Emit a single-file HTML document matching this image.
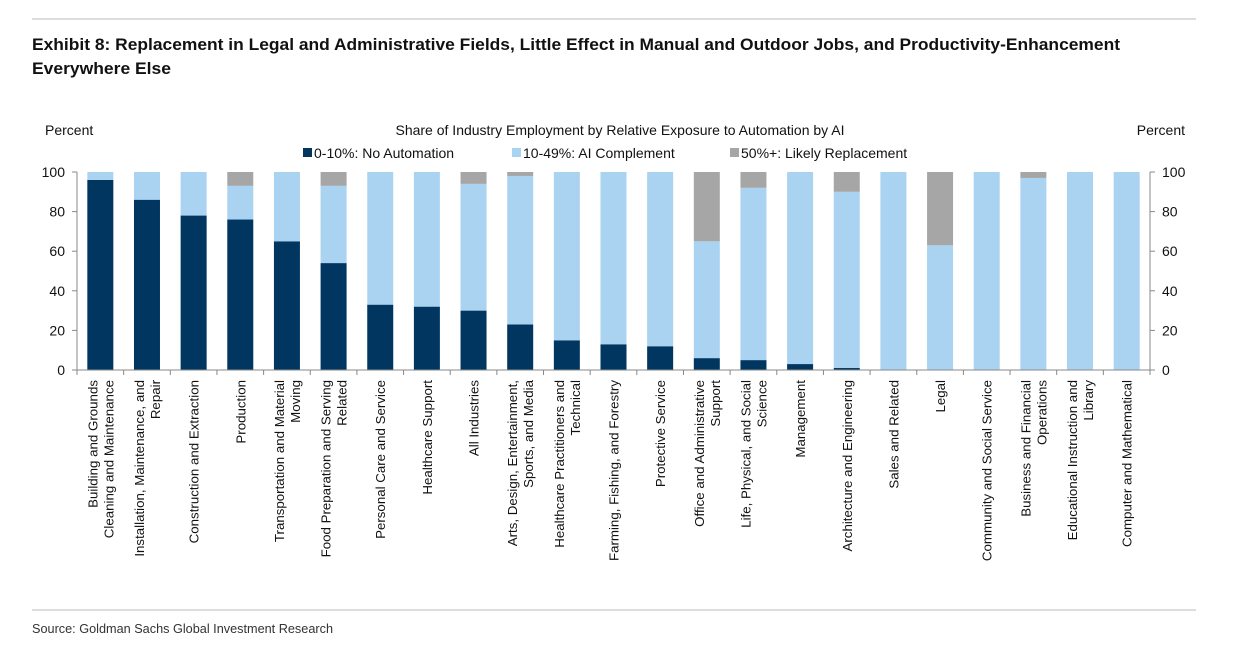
<!DOCTYPE html>
<html><head><meta charset="utf-8"><style>
body{margin:0;background:#fff;width:1254px;height:664px;overflow:hidden;font-family:"Liberation Sans",Arial,sans-serif}
svg text{font-family:"Liberation Sans",Arial,sans-serif}
</style></head><body>
<svg width="1254" height="664">
<line x1="32" y1="19" x2="1196" y2="19" stroke="#bbb"/>
<text x="32" y="50" font-size="17" font-weight="bold" fill="#111" textLength="1088" lengthAdjust="spacingAndGlyphs">Exhibit 8: Replacement in Legal and Administrative Fields, Little Effect in Manual and Outdoor Jobs, and Productivity-Enhancement</text>
<text x="32" y="74" font-size="17" font-weight="bold" fill="#111" textLength="139" lengthAdjust="spacingAndGlyphs">Everywhere Else</text>
<text x="45" y="135" font-size="14" fill="#111">Percent</text>
<text x="1185" y="135" font-size="14" fill="#111" text-anchor="end">Percent</text>
<text x="620" y="135" font-size="14" fill="#111" text-anchor="middle">Share of Industry Employment by Relative Exposure to Automation by AI</text>
<g>
<rect x="303" y="148" width="9" height="9" fill="#003660"/>
<text x="314" y="158" font-size="14" fill="#111">0-10%: No Automation</text>
<rect x="512" y="148" width="9" height="9" fill="#a9d3f0"/>
<text x="523" y="158" font-size="14" fill="#111">10-49%: AI Complement</text>
<rect x="730" y="148" width="9" height="9" fill="#a6a6a6"/>
<text x="741" y="158" font-size="14" fill="#111">50%+: Likely Replacement</text>
</g>
<g id="plot"></g>
<line x1="32" y1="610" x2="1196" y2="610" stroke="#bbb"/>
<text x="32" y="633" font-size="13" fill="#333" textLength="301" lengthAdjust="spacingAndGlyphs">Source: Goldman Sachs Global Investment Research</text>
</svg>
<script>
const categories=[["Building and Grounds","Cleaning and Maintenance"],["Installation, Maintenance, and","Repair"],["Construction and Extraction"],["Production"],["Transportation and Material","Moving"],["Food Preparation and Serving","Related"],["Personal Care and Service"],["Healthcare Support"],["All Industries"],["Arts, Design, Entertainment,","Sports, and Media"],["Healthcare Practitioners and","Technical"],["Farming, Fishing, and Forestry"],["Protective Service"],["Office and Administrative","Support"],["Life, Physical, and Social","Science"],["Management"],["Architecture and Engineering"],["Sales and Related"],["Legal"],["Community and Social Service"],["Business and Financial","Operations"],["Educational Instruction and","Library"],["Computer and Mathematical"]];
const noAutomation=[96,86,78,76,65,54,33,32,30,23,15,13,12,6,5,3,1,0,0,0,0,0,0];
const complement=[4,14,22,17,35,39,67,68,64,75,85,87,88,59,87,97,89,100,63,100,97,100,100];
const replacement=[0,0,0,7,0,7,0,0,6,2,0,0,0,35,8,0,10,0,37,0,3,0,0];
const yTicks=[0,20,40,60,80,100];
const NS="http://www.w3.org/2000/svg";
const g=document.getElementById('plot');
const X0=77,X1=1150,Y0=370,Y1=172;
const band=(X1-X0)/categories.length;
const xc=i=>X0+band*(i+0.5);
const y=v=>Y0-(v/100)*(Y0-Y1);
function mk(t,a){const e=document.createElementNS(NS,t);for(const k in a)e.setAttribute(k,a[k]);g.appendChild(e);return e;}
yTicks.forEach(v=>{
  let t=mk('text',{x:X0-12,y:y(v)+5,'font-size':14,'text-anchor':'end',fill:'#111'});t.textContent=v;
  
  
  t=mk('text',{x:X1+12,y:y(v)+5,'font-size':14,fill:'#111'});t.textContent=v;
  
  
  let l=mk('line',{x1:X0-5,x2:X0,y1:y(v),y2:y(v),stroke:'#888'});
  
  
  l=mk('line',{x1:X1,x2:X1+5,y1:y(v),y2:y(v),stroke:'#888'});
  
  
});
[X0,X1].forEach(a=>{const l=mk('line',{x1:a,x2:a,y1:Y1,y2:Y0,stroke:'#888'});
  
  });
categories.forEach((c,i)=>{
  const w=26,x=xc(i)-w/2;
  const segs=[[noAutomation[i],'#003660','bar-no-automation'],[complement[i],'#a9d3f0','bar-complement'],[replacement[i],'#a6a6a6','bar-replacement']];
  let base=0;
  segs.forEach(([v,col,nm])=>{
    if(v>0){const r=mk('rect',{x:x,width:w,y:y(base+v),height:y(base)-y(base+v),fill:col});
      
      }
    base+=v;
  });
  const n=c.length;
  c.forEach((line,j)=>{
    const lx=xc(i)+(j-(n-1)/2)*16+5;
    const t=mk('text',{x:0,y:0,'font-size':13.3,'text-anchor':'end',fill:'#111',transform:`translate(${lx},380) rotate(-90)`});
    t.textContent=line;
    
    
  });
});
for(let i=0;i<=categories.length;i++){const l=mk('line',{x1:X0+band*i,x2:X0+band*i,y1:Y0,y2:Y0+5,stroke:'#888'});
  
  }
const ax=mk('line',{x1:X0,x2:X1,y1:Y0,y2:Y0,stroke:'#888'});


</script>
</body></html>
